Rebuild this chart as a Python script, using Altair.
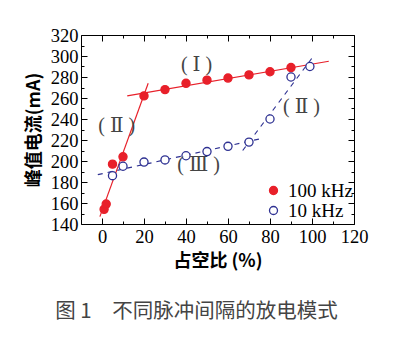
import altair as alt
import pandas as pd

# ---- data ----
red_x = [1, 2, 5, 10, 20, 30, 40, 50, 60, 70, 80, 90]
red_y = [154, 159, 197, 204, 262, 268, 274, 277, 279, 282, 285, 289]
blue_x = [5, 10, 20, 30, 40, 50, 60, 70, 80, 90, 99]
blue_y = [186, 195, 199, 201, 205, 209, 214, 218, 240, 280, 290]

# fitted guide lines (end points)
red_fit_ids = ["I", "I", "II", "II"]
red_fit_x = [12, 108, -1, 22]
red_fit_y = [262, 295, 147, 274]
blue_fit_ids = ["III", "III", "II", "II"]
blue_fit_x = [-2, 75, 67, 100]
blue_fit_y = [187, 221, 210, 298]

note_text = ["( Ⅰ )", "( Ⅱ )", "( Ⅱ )", "( Ⅲ )"]
note_x = [45, 7, 95, 46]
note_y = [291, 233, 251, 196]

series_names = ["100 kHz", "10 kHz"]
x_ticks = list(range(0, 121, 10))
y_ticks = list(range(140, 321, 10))
x_title = "占空比 (%)"
y_title = "峰值电流(mA)"
caption = "图 1　不同脉冲间隔的放电模式"

RED = "#e8202a"
BLUE = "#2e3192"
SERIF = "Liberation Serif"
CJK = "Noto Sans CJK SC"

pts = pd.DataFrame({
    "x": red_x + blue_x,
    "y": red_y + blue_y,
    "series": [series_names[0]] * len(red_x) + [series_names[1]] * len(blue_x),
})
red_fit = pd.DataFrame({"id": red_fit_ids, "x": red_fit_x, "y": red_fit_y})
blue_fit = pd.DataFrame({"id": blue_fit_ids, "x": blue_fit_x, "y": blue_fit_y})
notes = pd.DataFrame({"t": note_text, "x": note_x, "y": note_y})

xs = alt.Scale(domain=[-10, 120], nice=False, zero=False)
ys = alt.Scale(domain=[140, 320], nice=False, zero=False)

TICK = {"expr": "datum.value % 20 === 0 ? -6 : -3"}
LBL = "datum.value % 20 === 0 ? datum.label : ''"

common_axis = dict(
    domainColor="black", tickColor="black", labelColor="black",
    labelFont=SERIF, labelFontSize=18.5, labelFontWeight="normal",
    labelFlush=False, labelOverlap=False, grid=False,
    titleFont=CJK, titleFontSize=18, titleFontWeight="bold", titleColor="black",
)

x_axis = alt.Axis(orient="bottom", values=x_ticks, labelExpr=LBL, tickSize=TICK,
                  labelPadding=9, title=x_title, titlePadding=4, **common_axis)
y_axis = alt.Axis(orient="left", values=y_ticks, labelExpr=LBL, tickSize=TICK,
                  labelPadding=9, title=y_title, titlePadding=7, **common_axis)
x_top = alt.Axis(orient="top", values=x_ticks, labels=False, title=None, tickSize=TICK,
                 domainColor="black", tickColor="black", grid=False)
y_right = alt.Axis(orient="right", values=y_ticks, labels=False, title=None, tickSize=TICK,
                   domainColor="black", tickColor="black", grid=False)

red_lines = alt.Chart(red_fit).mark_line(color=RED, strokeWidth=1.2).encode(
    x=alt.X("x:Q", scale=xs, axis=x_axis),
    y=alt.Y("y:Q", scale=ys, axis=y_axis),
    detail="id:N",
)
blue_lines = alt.Chart(blue_fit).mark_line(color=BLUE, strokeWidth=1.2, strokeDash=[5, 5]).encode(
    x=alt.X("x:Q", scale=xs, axis=x_top),
    y=alt.Y("y:Q", scale=ys, axis=y_right),
    detail="id:N",
)

legend = alt.Legend(
    title=None, orient="none", legendX=183, legendY=146,
    labelFont=SERIF, labelFontSize=19, labelColor="black",
    symbolSize=64, symbolStrokeWidth=1.3, rowPadding=-1, labelOffset=5,
)
points = alt.Chart(pts).mark_point(shape="circle", size=66, strokeWidth=1.3, opacity=1).encode(
    x=alt.X("x:Q", scale=xs, axis=None),
    y=alt.Y("y:Q", scale=ys, axis=None),
    color=alt.Color("series:N", scale=alt.Scale(domain=series_names, range=[RED, BLUE]), legend=legend),
    fill=alt.Fill("series:N", scale=alt.Scale(domain=series_names, range=[RED, "white"]), legend=legend),
)

labels = alt.Chart(notes).mark_text(font="Liberation Serif, DejaVu Serif", fontSize=20, color="#444444").encode(
    x=alt.X("x:Q", scale=xs, axis=None),
    y=alt.Y("y:Q", scale=ys, axis=None),
    text="t:N",
)

chart = alt.layer(red_lines, blue_lines, points, labels).resolve_axis(
    x="independent", y="independent"
).properties(
    width=273, height=189,
    padding={"left": 81, "top": 35, "right": 55, "bottom": 130},
    autosize=alt.AutoSizeParams(type="none"),
    title=alt.TitleParams(
        caption, orient="bottom", anchor="middle", dx=-21, offset=31,
        font=CJK, fontSize=20.5, fontWeight="normal", color="#444444",
    ),
).configure_view(stroke=None).configure(background="white")

chart.save("out.html", embed_options={"renderer": "svg", "actions": False})
